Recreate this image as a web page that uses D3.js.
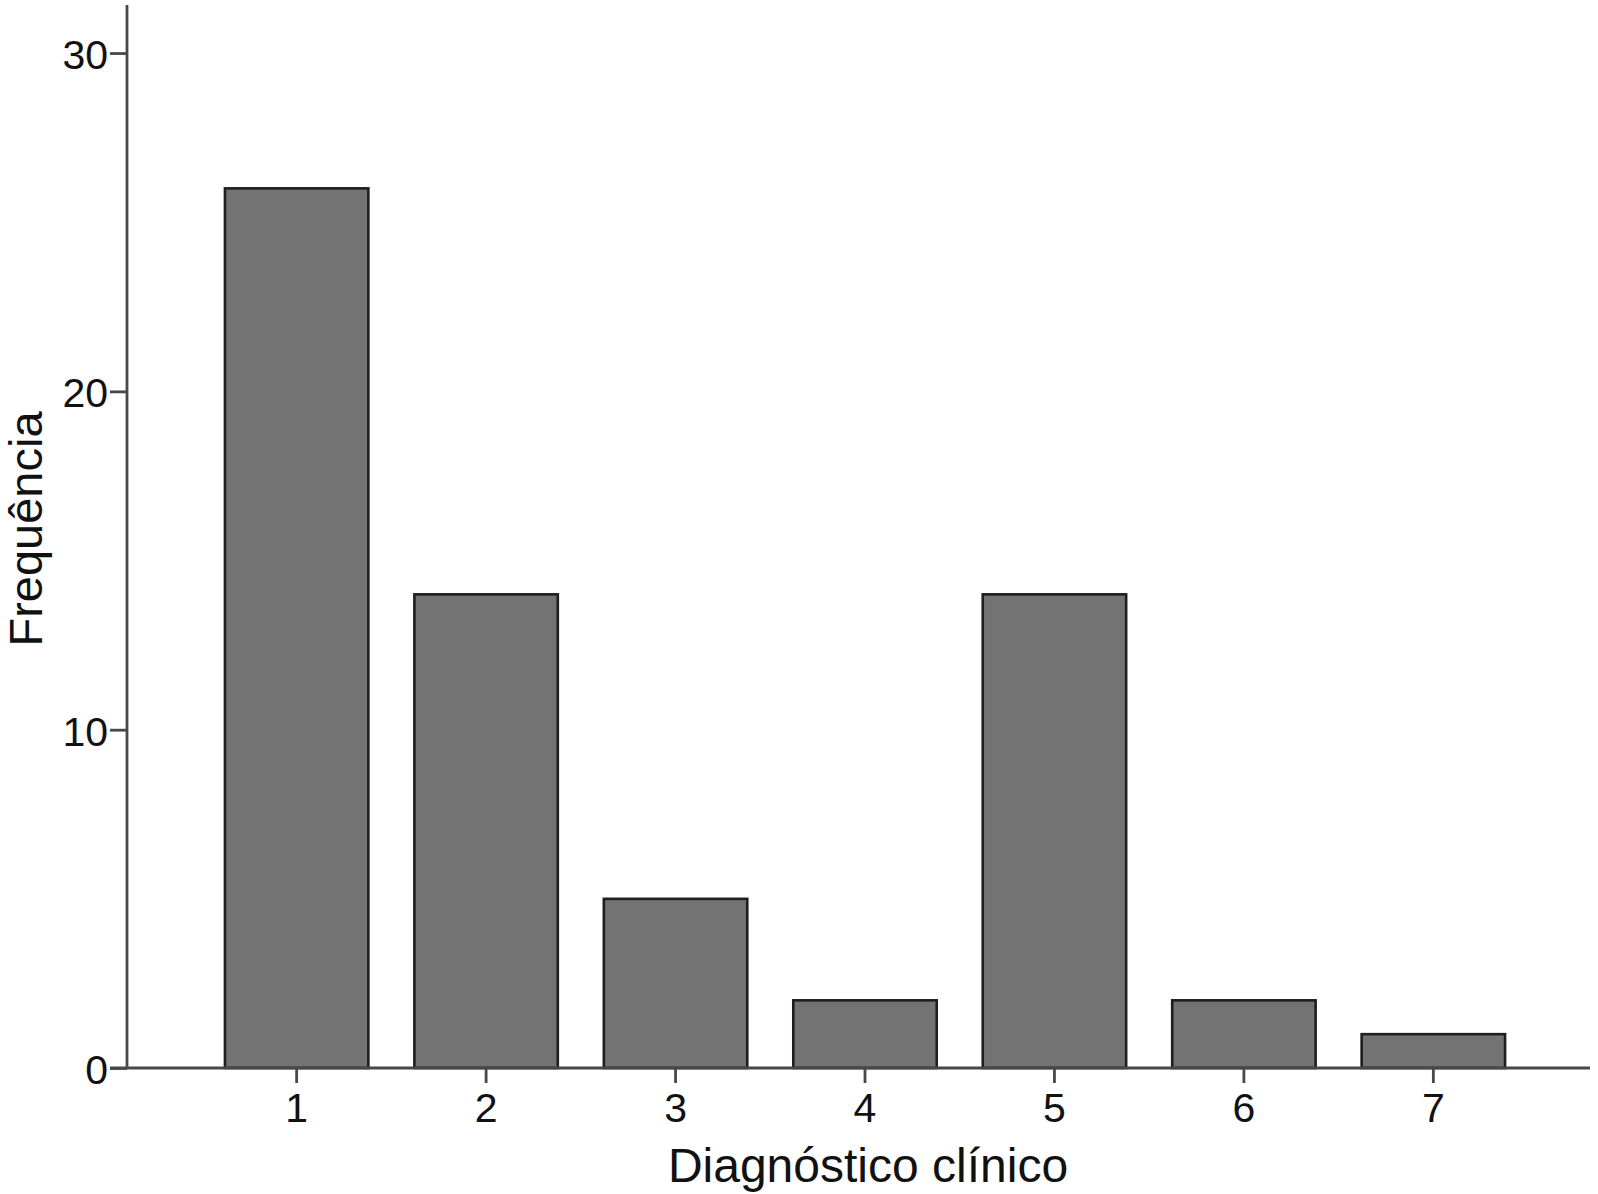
<!DOCTYPE html>
<html>
<head>
<meta charset="utf-8">
<script src="https://cdn.jsdelivr.net/npm/d3@7"></script>
<style>
  html, body { margin: 0; padding: 0; background: #fff; }
  svg { display: block; }
  text { font-family: "Liberation Sans", Arial, Helvetica, sans-serif; fill: #111; }
</style>
</head>
<body>
<svg id="chart" width="1598" height="1194"></svg>
<script>
const categories = ["1", "2", "3", "4", "5", "6", "7"];
const values = [26, 14, 5, 2, 14, 2, 1];
const yTicks = [0, 10, 20, 30];
const xTitle = "Diagnóstico clínico";
const yTitle = "Frequência";

const svg = d3.select("#chart");
const axisX0 = 127, axisY0 = 1068, axisTop = 5, axisRight = 1590;

const y = d3.scaleLinear().domain([0, 31.42]).range([axisY0, axisTop]);

const step = 189.45, pIn = 0.243, pOut = 0.517;
const x = d3.scaleBand()
  .domain(categories)
  .range([axisX0, axisX0 + step * (categories.length - pIn + 2 * pOut)])
  .paddingInner(pIn)
  .paddingOuter(pOut);

const axisColor = "#484848";

// bars
svg.append("g").selectAll("rect")
  .data(values)
  .join("rect")
  .attr("x", (d, i) => x(categories[i]))
  .attr("y", d => y(d))
  .attr("width", x.bandwidth())
  .attr("height", d => y(0) - y(d))
  .attr("fill", "#737373")
  .attr("stroke", "#1e1e1e")
  .attr("stroke-width", 2.6);

// y axis
const gy = svg.append("g")
  .attr("transform", `translate(${axisX0},0)`)
  .call(d3.axisLeft(y).tickValues(yTicks).tickSize(17).tickPadding(2).tickFormat(d3.format("d")));
gy.select(".domain").remove();
gy.selectAll(".tick line").attr("stroke", axisColor).attr("stroke-width", 2.8);
gy.selectAll(".tick text").attr("font-size", 41).attr("dy", "0.38em").style("font-family", "'Liberation Sans', Arial, sans-serif").attr("fill", "#111");

// x axis
const gx = svg.append("g")
  .attr("transform", `translate(0,${axisY0})`)
  .call(d3.axisBottom(x).tickSize(15).tickPadding(10));
gx.select(".domain").remove();
gx.selectAll(".tick line").attr("stroke", axisColor).attr("stroke-width", 2.8);
gx.selectAll(".tick text").attr("font-size", 41).attr("dy", "0").attr("y", 54).style("font-family", "'Liberation Sans', Arial, sans-serif").attr("fill", "#111");

// axis lines
svg.append("line")
  .attr("x1", axisX0).attr("x2", axisX0)
  .attr("y1", axisTop).attr("y2", axisY0)
  .attr("stroke", axisColor).attr("stroke-width", 2.8);
svg.append("line")
  .attr("x1", axisX0 - 17).attr("x2", axisRight)
  .attr("y1", axisY0).attr("y2", axisY0)
  .attr("stroke", axisColor).attr("stroke-width", 2.8);

// titles
svg.append("text")
  .attr("x", 868).attr("y", 1182)
  .attr("text-anchor", "middle")
  .attr("font-size", 48)
  .text(xTitle);

svg.append("text")
  .attr("transform", "translate(42,529) rotate(-90)")
  .attr("text-anchor", "middle")
  .attr("font-size", 47)
  .text(yTitle);
</script>
</body>
</html>
